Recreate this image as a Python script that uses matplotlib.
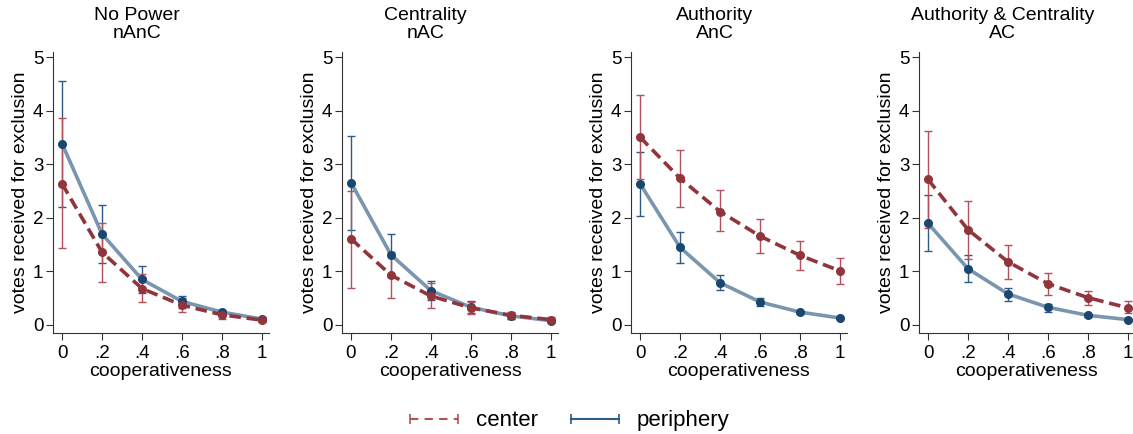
import matplotlib
matplotlib.use("Agg")
import matplotlib.pyplot as plt
from matplotlib.lines import Line2D

plt.rcParams['font.family'] = ['Liberation Sans', 'DejaVu Sans']

x = [0, 0.2, 0.4, 0.6, 0.8, 1.0]
xtick_labels = ["0", ".2", ".4", ".6", ".8", "1"]
titles = ["No Power\nnAnC", "Centrality\nnAC", "Authority\nAnC", "Authority & Centrality\nAC"]

# center (red, dashed)
center_mean = [
    [2.64, 1.36, 0.68, 0.37, 0.19, 0.09],
    [1.61, 0.93, 0.54, 0.32, 0.18, 0.10],
    [3.51, 2.74, 2.12, 1.66, 1.30, 1.01],
    [2.72, 1.78, 1.18, 0.77, 0.51, 0.32],
]
center_hi = [
    [3.87, 1.90, 0.95, 0.50, 0.25, 0.12],
    [2.51, 1.37, 0.78, 0.43, 0.25, 0.14],
    [4.29, 3.27, 2.52, 1.98, 1.56, 1.25],
    [3.63, 2.31, 1.49, 0.98, 0.64, 0.44],
]
center_lo = [
    [1.43, 0.81, 0.43, 0.24, 0.12, 0.06],
    [0.70, 0.50, 0.32, 0.21, 0.12, 0.07],
    [2.73, 2.21, 1.75, 1.34, 1.02, 0.76],
    [1.81, 1.24, 0.85, 0.56, 0.37, 0.22],
]
# periphery (blue, solid)
periph_mean = [
    [3.39, 1.70, 0.85, 0.44, 0.24, 0.11],
    [2.66, 1.31, 0.64, 0.33, 0.17, 0.08],
    [2.64, 1.45, 0.79, 0.43, 0.24, 0.13],
    [1.90, 1.05, 0.58, 0.33, 0.18, 0.10],
]
periph_hi = [
    [4.55, 2.24, 1.11, 0.55, 0.28, 0.14],
    [3.53, 1.70, 0.82, 0.44, 0.23, 0.10],
    [3.23, 1.73, 0.93, 0.51, 0.27, 0.15],
    [2.42, 1.30, 0.70, 0.40, 0.21, 0.12],
]
periph_lo = [
    [2.21, 1.15, 0.59, 0.31, 0.19, 0.08],
    [1.78, 0.90, 0.47, 0.22, 0.12, 0.06],
    [2.04, 1.16, 0.65, 0.35, 0.21, 0.11],
    [1.38, 0.80, 0.45, 0.25, 0.15, 0.08],
]

RED_LINE = "#90353B"
RED_CI = "#B4505A"
BLUE_LINE = "#7A95AE"
BLUE_MK = "#1A476F"
BLUE_CI = "#2E5A88"

fig = plt.figure(figsize=(11.33, 4.34), dpi=100)
lefts = [53, 342, 631, 919]
W, H = 1133, 434
for i in range(4):
    ax = fig.add_axes([lefts[i] / W, 101 / H, 216 / W, 281 / H])
    # periphery
    yerr_p = [[m - l for m, l in zip(periph_mean[i], periph_lo[i])],
              [h - m for m, h in zip(periph_mean[i], periph_hi[i])]]
    ax.errorbar(x, periph_mean[i], yerr=yerr_p, fmt='none', ecolor=BLUE_CI,
                elinewidth=1.0, capsize=3, capthick=1.0, zorder=3)
    ax.plot(x, periph_mean[i], color=BLUE_LINE, lw=2.6, zorder=4, solid_capstyle='round')
    ax.plot(x, periph_mean[i], 'o', color=BLUE_MK, ms=5.5, zorder=5)
    # center
    yerr_c = [[m - l for m, l in zip(center_mean[i], center_lo[i])],
              [h - m for m, h in zip(center_mean[i], center_hi[i])]]
    ax.errorbar(x, center_mean[i], yerr=yerr_c, fmt='none', ecolor=RED_CI,
                elinewidth=1.0, capsize=3, capthick=1.0, zorder=3)
    ax.plot(x, center_mean[i], color=RED_LINE, lw=2.6, ls=(0, (3.2, 1.6)), zorder=6)
    ax.plot(x, center_mean[i], 'o', color=RED_LINE, ms=5.5, zorder=7)

    ax.set_xlim(-0.045, 1.035)
    ax.set_ylim(-0.15, 5.1)
    ax.set_xticks(x)
    ax.set_xticklabels(xtick_labels)
    ax.set_yticks([0, 1, 2, 3, 4, 5])
    ax.tick_params(axis='both', labelsize=13.5, length=5, width=0.8, color='#333333')
    ax.tick_params(axis='x', pad=4)
    ax.tick_params(axis='y', pad=2)
    for s in ['top', 'right']:
        ax.spines[s].set_visible(False)
    for s in ['left', 'bottom']:
        ax.spines[s].set_linewidth(0.8)
        ax.spines[s].set_color('#333333')
    ax.set_xlabel("cooperativeness", fontsize=14, labelpad=0)
    ax.set_ylabel("votes received for exclusion", fontsize=14, labelpad=3)
    ax.set_title(titles[i], fontsize=14, linespacing=1.05, pad=10, x=0.388)

handles = [
    Line2D([0], [0], color=RED_CI, lw=1.5, ls=(0, (4, 3)), marker='|', ms=7, mew=1.2),
    Line2D([0], [0], color=BLUE_CI, lw=1.5, marker='|', ms=7, mew=1.2),
]
fig.legend(handles, ["center", "periphery"], loc='center', bbox_to_anchor=(0.5, 0.03),
           ncol=2, frameon=False, fontsize=16, numpoints=2, handlelength=2.75,
           columnspacing=1.2, handletextpad=0.5)

fig.savefig("out.png", dpi=100)
